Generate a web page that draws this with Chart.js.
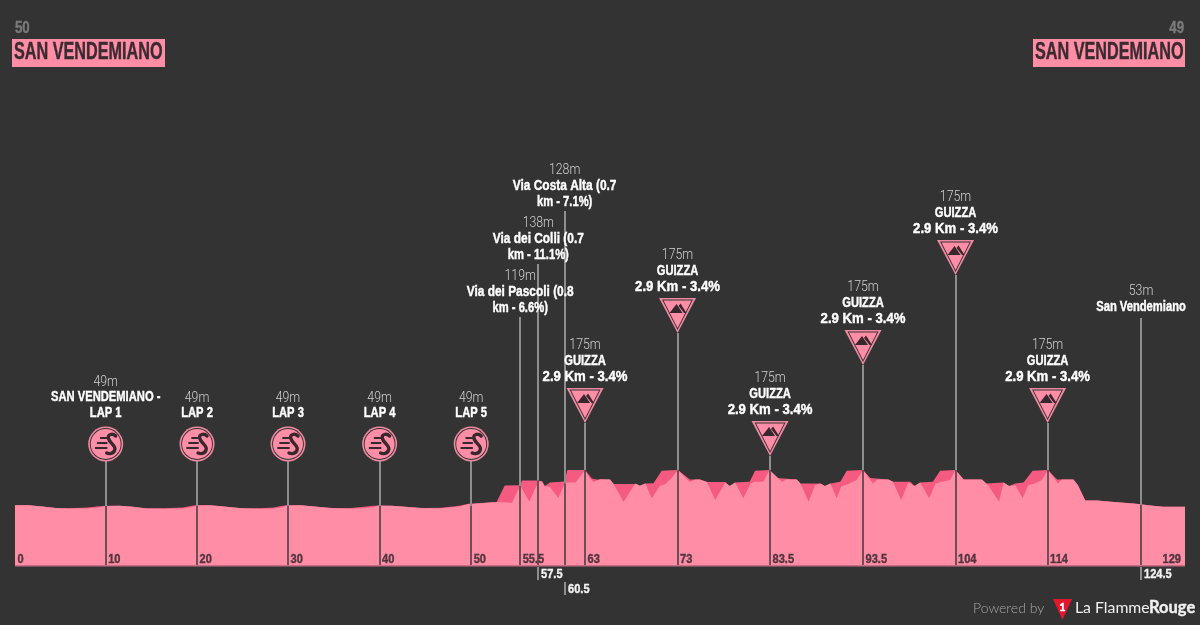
<!doctype html>
<html lang="en">

<head>
    <meta charset="utf-8">
    <title>San Vendemiano - stage profile</title>
    <style>
        * {
            margin: 0;
            padding: 0;
        }

        body {
            background: #333333;
            overflow: hidden;
        }

        canvas {
            display: block;
        }
    </style>
</head>

<body>
    <canvas id="myChart" width="1200" height="625"></canvas>

    <script src="https://cdn.jsdelivr.net/npm/chart.js"></script>

    <script>
        // profile outline (darker pink, km / metres)
        const outlineKm = [0, 1.5, 3, 4.5, 6, 8, 9, 10, 11.5, 13, 14.5, 16.5, 18.5, 19.5, 20, 21.5, 23, 25, 27, 28.5, 29.5, 30, 31.5, 33, 35, 37, 38.5, 39.5, 40, 41.5, 43, 45, 47, 49, 50,
            53.1, 54, 55.7, 55.9, 57.7, 58.1, 58.4, 59, 60.6, 60.9, 62.85, 63.6, 64.1, 65.6, 66, 68.4, 68.9, 69.5, 70.4, 71.3, 73.1,
            74.4, 75.5, 76.3, 78.3, 78.8, 79.4, 81, 81.6, 83.2,
            84, 86.2, 86.6, 88.8, 89.3, 89.9, 91, 91.7, 93.5,
            94.3, 96.3, 96.8, 98.7, 99.2, 99.8, 101.2, 102, 103.7,
            104.6, 106.6, 107.1, 109, 109.6, 110.3, 111.2, 112.2, 113.9,
            114.9, 116.7, 117.2, 118, 119.3, 121.5, 123.3, 124.1, 124.9, 126.6, 129];
        const outlineM = [52, 52, 47, 42, 41, 44, 47, 50, 50, 46, 41, 41, 44, 50, 52, 52, 47, 41, 41, 44, 50, 52, 52, 47, 42, 42, 46, 50, 51, 50, 46, 42, 43, 50, 57,
            63, 121, 122, 138, 138, 136, 119, 131, 135, 175, 175, 145, 142, 142, 126, 126, 120, 128, 129, 172, 175,
            142, 142, 133, 133, 119, 131, 134, 172, 175,
            147, 142, 128, 128, 119, 128, 134, 172, 175,
            147, 142, 134, 134, 119, 131, 134, 172, 175,
            142, 142, 128, 131, 119, 128, 131, 172, 175,
            142, 142, 122, 68, 68, 62, 58, 55, 52, 46, 46];

        // lighter pink profile in front of it
        const innerKm = [0, 1.5, 3, 4.5, 6, 8, 9, 10, 11.5, 13, 14.5, 16.5, 18.5, 19.5, 20, 21.5, 23, 25, 27, 28.5, 29.5, 30, 31.5, 33, 35, 37, 38.5, 39.5, 40, 41.5, 43, 45, 47, 49, 50,
            53.1, 54.8, 55.7, 56.7, 57.7, 58.1, 58.4, 59, 59.9, 60.6, 60.9, 61.8, 62.85, 63.4, 63.8, 64.5, 65.6, 66, 67.1, 68.4, 68.9, 69.5, 70.2, 71.1, 71.7, 72.4, 73.1,
            74.4, 75, 75.5, 76.3, 77.2, 78.3, 78.8, 79.4, 80.3, 81.1, 81.6, 82.5, 83.2,
            84.6, 85, 86.2, 86.6, 87.5, 88.2, 88.8, 89.3, 89.9, 90.6, 91.1, 92, 92.8, 93.5,
            94.6, 95.1, 96.3, 96.8, 97.7, 98.5, 99.2, 99.8, 100.8, 101.5, 102.2, 103.1, 103.7,
            104.6, 106.6, 107.3, 108.5, 109, 109.6, 110.3, 111.1, 111.7, 112.4, 113.2, 113.9,
            115, 115.4, 116.7, 117.2, 118, 119.3, 121.5, 123.3, 124.1, 124.9, 126.6, 129];
        const innerM = [52, 52, 47, 42, 40, 41, 43, 49, 50, 46, 40, 39, 40, 45, 51, 52, 47, 41, 39, 40, 45, 51, 52, 47, 41, 39, 41, 45, 50, 50, 46, 41, 41, 47, 55,
            63, 60, 121, 65, 133, 136, 119, 115, 77, 127, 131, 131, 175, 145, 133, 143, 142, 126, 64, 128, 120, 128, 76, 119, 126, 147, 175,
            133, 142, 142, 133, 70, 131, 119, 131, 76, 128, 134, 134, 175,
            133, 142, 142, 128, 64, 122, 128, 119, 128, 76, 117, 128, 140, 175,
            128, 142, 142, 134, 70, 131, 119, 131, 76, 128, 134, 140, 175,
            142, 142, 122, 64, 131, 119, 122, 76, 122, 128, 140, 175,
            128, 142, 142, 122, 68, 68, 62, 58, 55, 52, 46, 46];

        // points of interest along the stage (km as they sit on the axis)
        const markerKm = [10, 20.07, 30.1, 40.2, 50.3, 55.7, 57.7, 60.6, 62.85, 73.05, 83.25, 93.5, 103.7, 113.85, 124.15];
        const markerElevation = [49, 49, 49, 49, 49, 119, 138, 128, 175, 175, 175, 175, 175, 175, 53];
        const markerType = ['sprint', 'sprint', 'sprint', 'sprint', 'sprint', 'poi', 'poi', 'poi', 'climb', 'climb', 'climb', 'climb', 'climb', 'climb', 'poi'];
        const markerNames = [
            ['SAN VENDEMIANO -', 'LAP 1'], ['LAP 2'], ['LAP 3'], ['LAP 4'], ['LAP 5'],
            ['Via dei Pascoli (0.8', 'km - 6.6%)'], ['Via dei Colli (0.7', 'km - 11.1%)'], ['Via Costa Alta (0.7', 'km - 7.1%)'],
            ['GUIZZA', '2.9 Km - 3.4%'], ['GUIZZA', '2.9 Km - 3.4%'], ['GUIZZA', '2.9 Km - 3.4%'],
            ['GUIZZA', '2.9 Km - 3.4%'], ['GUIZZA', '2.9 Km - 3.4%'], ['GUIZZA', '2.9 Km - 3.4%'],
            ['San Vendemiano']
        ];

        // km labels
        const tickKm = [0, 10, 20.07, 30.1, 40.2, 50.3, 55.7, 62.85, 73.05, 83.25, 93.5, 103.7, 113.85];
        const tickLabels = ['0', '10', '20', '30', '40', '50', '55.5', '63', '73', '83.5', '93.5', '104', '114'];
        const lowerTickKm = [57.7, 60.6, 124.15];
        const lowerTickLabels = ['57.5', '60.5', '124.5'];
        const finishKm = 129;

        const startName = 'SAN VENDEMIANO';
        const finishName = 'SAN VENDEMIANO';
        const startNumber = '50';
        const finishNumber = '49';

        // drawing constants
        const PINK = '#ff8da6';
        const DARK_PINK = '#f55b80';
        const BG = '#333333';
        const SANS = '"Liberation Sans", sans-serif';
        // y pixel where each stem ends at the top, same order as markerKm
        const stemTops = [461, 461, 461, 461, 461, 317, 264, 211, 423, 333, 456, 365, 275, 423, 318];
        // y pixel where the hanging labels start
        const lowerTops = [567, 582, 567];

        function toPoints(xs, ys) {
            return xs.map((x, i) => ({ x: x, y: ys[i] }));
        }

        // squeezes the text sideways, there is no condensed font here
        function text(ctx, str, x, y, font, color, align, squeeze) {
            ctx.save();
            ctx.translate(x, y);
            ctx.scale(squeeze || 1, 1);
            ctx.font = font;
            ctx.fillStyle = color;
            ctx.textAlign = align || 'center';
            ctx.textBaseline = 'middle';
            ctx.fillText(str, 0, 0);
            if (font.startsWith('bold')) {
                // a little heavier, closer to the original type
                ctx.strokeStyle = color;
                ctx.lineWidth = 0.4;
                ctx.strokeText(str, 0, 0);
            }
            ctx.restore();
        }

        function captionSqueeze(line) {
            if (/^[0-9]/.test(line)) return 0.94;
            if (/^Via/.test(line)) return 0.85;
            return 0.8;
        }

        function drawSprint(ctx, x, y) {
            ctx.beginPath();
            ctx.arc(x, y, 17.5, 0, Math.PI * 2);
            ctx.fillStyle = '#f08aa2';
            ctx.fill();
            ctx.beginPath();
            ctx.arc(x, y, 15.9, 0, Math.PI * 2);
            ctx.fillStyle = BG;
            ctx.fill();
            ctx.beginPath();
            ctx.arc(x, y, 15, 0, Math.PI * 2);
            ctx.fillStyle = PINK;
            ctx.fill();

            ctx.strokeStyle = '#38282e';
            ctx.lineCap = 'round';
            ctx.lineWidth = 1.8;
            ctx.beginPath();
            ctx.moveTo(x - 5, y - 6);
            ctx.lineTo(x + 1, y - 6);
            ctx.moveTo(x - 8, y - 1);
            ctx.lineTo(x + 1, y - 1);
            ctx.moveTo(x - 10, y + 4);
            ctx.lineTo(x + 1, y + 4);
            ctx.stroke();
            ctx.lineWidth = 3.4;
            ctx.beginPath();
            ctx.moveTo(x + 10, y - 8);
            ctx.bezierCurveTo(x + 7, y - 11, x + 1, y - 10, x + 3, y - 5);
            ctx.bezierCurveTo(x + 4, y - 1, x + 11, y + 2, x + 9, y + 6);
            ctx.bezierCurveTo(x + 8, y + 10, x + 3, y + 10, x + 1, y + 9);
            ctx.stroke();
            ctx.lineCap = 'butt';
        }

        function drawClimb(ctx, x, tip) {
            const top = tip - 35;
            ctx.beginPath();
            ctx.moveTo(x - 18.5, top);
            ctx.lineTo(x + 18.5, top);
            ctx.lineTo(x, tip);
            ctx.closePath();
            ctx.fillStyle = '#f08aa2';
            ctx.fill();
            ctx.beginPath();
            ctx.moveTo(x - 15.5, top + 1.5);
            ctx.lineTo(x + 15.5, top + 1.5);
            ctx.lineTo(x, tip - 3);
            ctx.closePath();
            ctx.fillStyle = BG;
            ctx.fill();
            ctx.beginPath();
            ctx.moveTo(x - 14, top + 2.5);
            ctx.lineTo(x + 14, top + 2.5);
            ctx.lineTo(x, tip - 5);
            ctx.closePath();
            ctx.fillStyle = PINK;
            ctx.fill();
            // mountains
            ctx.fillStyle = '#38282e';
            ctx.beginPath();
            ctx.moveTo(x - 8, top + 15);
            ctx.lineTo(x - 1, top + 6);
            ctx.lineTo(x + 5, top + 15);
            ctx.closePath();
            ctx.fill();
            ctx.beginPath();
            ctx.moveTo(x + 1, top + 8);
            ctx.lineTo(x + 3, top + 5.5);
            ctx.lineTo(x + 9, top + 15);
            ctx.lineTo(x + 6.5, top + 15);
            ctx.closePath();
            ctx.fill();
        }

        const stageDecor = {
            id: 'stageDecor',
            afterDatasetsDraw(chart) {
                const ctx = chart.ctx;
                const xs = chart.scales.x;
                const ys = chart.scales.y;
                const base = chart.chartArea.bottom;
                ctx.save();

                // base line of the profile
                ctx.fillStyle = '#c96d85';
                ctx.fillRect(xs.getPixelForValue(0), base, xs.getPixelForValue(finishKm) - xs.getPixelForValue(0), 1.5);

                // stems
                markerKm.forEach((km, i) => {
                    const x = Math.round(xs.getPixelForValue(km));
                    const surface = ys.getPixelForValue(markerElevation[i]);
                    ctx.fillStyle = '#8e8e8e';
                    ctx.fillRect(x - 1, stemTops[i], 2, surface - stemTops[i]);
                    ctx.fillStyle = '#6e4e59';
                    ctx.fillRect(x - 1, surface, 2, base - surface);
                });

                // km labels in the profile
                tickKm.forEach((km, i) => {
                    text(ctx, tickLabels[i], xs.getPixelForValue(km) + 2.5, 559, 'bold 13.5px ' + SANS, '#51353f', 'left', 0.82);
                });
                text(ctx, String(finishKm), xs.getPixelForValue(finishKm) - 4, 559, 'bold 13.5px ' + SANS, '#51353f', 'right', 0.82);

                // km labels hanging below
                lowerTickKm.forEach((km, i) => {
                    const x = Math.round(xs.getPixelForValue(km));
                    ctx.fillStyle = '#8e8e8e';
                    ctx.fillRect(x - 1, lowerTops[i], 2, 13);
                    text(ctx, lowerTickLabels[i], x + 3, lowerTops[i] + 7.5, 'bold 13.5px ' + SANS, '#f2f2f2', 'left', 0.82);
                });

                // icons and captions
                markerKm.forEach((km, i) => {
                    const x = xs.getPixelForValue(km);
                    const names = markerNames[i];
                    let lineY;
                    let elevY;
                    if (markerType[i] === 'sprint') {
                        drawSprint(ctx, x, stemTops[i] - 17);
                        lineY = 429;
                        elevY = 1;
                    } else if (markerType[i] === 'climb') {
                        drawClimb(ctx, x, stemTops[i]);
                        lineY = stemTops[i] - 30;
                        elevY = 0;
                    } else {
                        lineY = stemTops[i] + (names.length > 1 ? 7 : 5);
                        elevY = 0;
                    }
                    names.forEach((line, n) => {
                        const y = lineY - 16 * (names.length - n);
                        text(ctx, line, x, y, 'bold 14px ' + SANS, '#ffffff', 'center', captionSqueeze(line));
                    });
                    text(ctx, markerElevation[i] + 'm', x, lineY - 16 * (names.length + 1) + elevY, '300 15px Roboto, sans-serif', '#d0d0d0', 'center', 0.82);
                });

                // start and finish headers
                text(ctx, startNumber, 15, 28, 'bold 17px ' + SANS, '#7a7a7a', 'left', 0.78);
                text(ctx, finishNumber, 1184, 28, 'bold 17px ' + SANS, '#7a7a7a', 'right', 0.78);
                ctx.fillStyle = PINK;
                ctx.fillRect(12, 39, 153, 28);
                ctx.fillRect(1033, 39, 152, 28);
                text(ctx, startName, 14, 53, 'bold 23px ' + SANS, '#3a2b31', 'left', 0.705);
                text(ctx, finishName, 1035, 53, 'bold 23px ' + SANS, '#3a2b31', 'left', 0.705);

                // footer
                text(ctx, 'Powered by', 973, 608, '300 14px Lato, sans-serif', '#a6a6a6', 'left');
                ctx.fillStyle = '#e0182d';
                ctx.beginPath();
                ctx.moveTo(1053, 599);
                ctx.lineTo(1072, 599);
                ctx.lineTo(1062.5, 620);
                ctx.closePath();
                ctx.fill();
                text(ctx, '1', 1062.5, 607, 'bold 11px Lato, sans-serif', '#ffffff');
                text(ctx, 'La Flamme', 1075, 608, '400 15.8px Lato, sans-serif', '#f0f0f0', 'left');
                text(ctx, 'Rouge', 1149, 608, 'bold 16.5px Lato, sans-serif', '#f0f0f0', 'left');

                ctx.restore();
            }
        };

        const config = {
            type: 'line',
            data: {
                datasets: [{
                    label: 'Inner',
                    data: toPoints(innerKm, innerM),
                    backgroundColor: PINK,
                    fill: 'start',
                    borderWidth: 0,
                    pointRadius: 0,
                    order: 1
                }, {
                    label: 'Outline',
                    data: toPoints(outlineKm, outlineM),
                    backgroundColor: DARK_PINK,
                    fill: 'start',
                    borderWidth: 0,
                    pointRadius: 0,
                    order: 2
                }]
            },
            options: {
                responsive: false,
                animation: false,
                layout: {
                    padding: { left: 15, right: 15, top: 65, bottom: 60 }
                },
                plugins: {
                    legend: { display: false },
                    tooltip: { enabled: false }
                },
                scales: {
                    x: { type: 'linear', min: 0, max: 129, display: false },
                    y: { min: -157.5, max: 1592.5, display: false }
                }
            },
            plugins: [stageDecor]
        };

        const myChart = new Chart(document.getElementById('myChart'), config);
    </script>
</body>

</html>
